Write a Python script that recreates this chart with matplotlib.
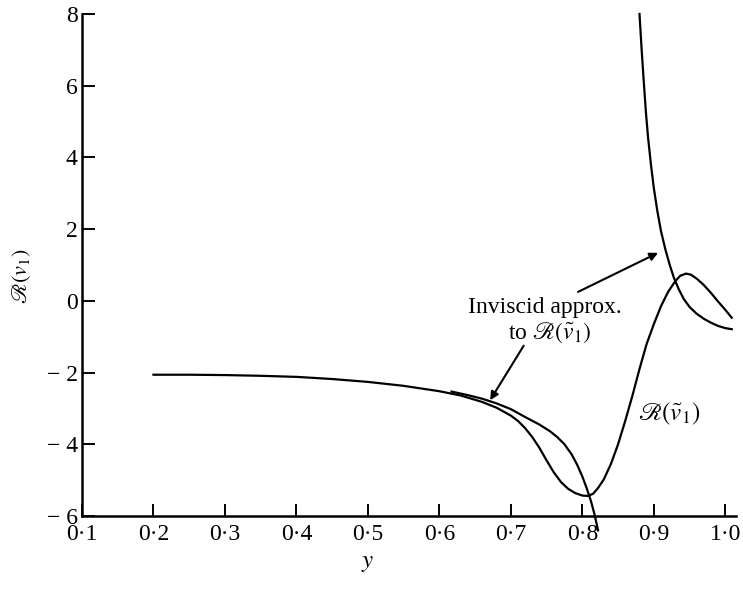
import matplotlib
matplotlib.use("Agg")
import matplotlib.pyplot as plt

plt.rcParams["font.family"] = ["Liberation Serif", "DejaVu Serif"]
plt.rcParams["mathtext.fontset"] = "stix"

# Real part of the full solution, R(v~1)
r_y = [0.20, 0.25, 0.30, 0.35, 0.40, 0.45, 0.50, 0.55, 0.60, 0.63, 0.66, 0.68,
       0.70, 0.71, 0.72, 0.73, 0.74, 0.75, 0.76, 0.77, 0.78, 0.79, 0.80, 0.808,
       0.815, 0.822, 0.83, 0.84, 0.85, 0.86, 0.87, 0.88, 0.89, 0.90, 0.91,
       0.92, 0.93, 0.937, 0.945, 0.952, 0.96, 0.97, 0.98, 0.99, 1.00, 1.009]
r_val = [-2.06, -2.06, -2.07, -2.09, -2.12, -2.18, -2.26, -2.37, -2.52, -2.64,
         -2.82, -2.98, -3.20, -3.35, -3.55, -3.80, -4.10, -4.45, -4.78, -5.05,
         -5.24, -5.36, -5.43, -5.44, -5.38, -5.22, -4.98, -4.55, -4.00, -3.35,
         -2.65, -1.90, -1.20, -0.65, -0.15, 0.25, 0.55, 0.70, 0.76, 0.73, 0.62,
         0.44, 0.22, -0.02, -0.25, -0.47]

# Inviscid approximation, branch below the critical point
inv_lo_y = [0.617, 0.64, 0.66, 0.68, 0.70, 0.72, 0.74, 0.755, 0.765, 0.775,
            0.785, 0.793, 0.80, 0.806, 0.812, 0.817, 0.822]
inv_lo_val = [-2.53, -2.63, -2.73, -2.86, -3.02, -3.24, -3.45, -3.64, -3.80,
              -4.00, -4.28, -4.58, -4.90, -5.22, -5.58, -5.95, -6.40]

# Inviscid approximation, branch above the critical point
inv_hi_y = [0.880, 0.883, 0.886, 0.889, 0.892, 0.896, 0.900, 0.905, 0.910,
            0.916, 0.922, 0.928, 0.935, 0.942, 0.950, 0.960, 0.970, 0.980,
            0.990, 1.000, 1.009]
inv_hi_val = [8.0, 7.0, 6.1, 5.25, 4.55, 3.80, 3.15, 2.50, 1.95, 1.45, 1.02,
              0.65, 0.32, 0.05, -0.17, -0.36, -0.50, -0.61, -0.70, -0.76, -0.79]

x_ticks = [0.1, 0.2, 0.3, 0.4, 0.5, 0.6, 0.7, 0.8, 0.9, 1.0]
x_tick_labels = ["0·1", "0·2", "0·3", "0·4", "0·5", "0·6", "0·7", "0·8", "0·9", "1·0"]
y_ticks = [-6, -4, -2, 0, 2, 4, 6, 8]
y_tick_labels = ["\u2212 6", "\u2212 4", "\u2212 2", "0", "2", "4", "6", "8"]

fig = plt.figure(figsize=(7.43, 5.89), dpi=100)
ax = fig.add_axes([82 / 743, 73 / 589, 654 / 743, 502 / 589])

lw = 1.6
ax.plot(r_y, r_val, color="black", lw=lw, clip_on=False)
ax.plot(inv_lo_y, inv_lo_val, color="black", lw=lw, clip_on=False)
ax.plot(inv_hi_y, inv_hi_val, color="black", lw=lw, clip_on=False)

ax.set_xlim(0.1, 1.015)
ax.set_ylim(-6, 8)

for side in ("top", "right"):
    ax.spines[side].set_visible(False)
for side in ("left", "bottom"):
    ax.spines[side].set_linewidth(1.8)

ax.set_xticks(x_ticks)
ax.set_xticklabels(x_tick_labels)
ax.set_yticks(y_ticks)
ax.set_yticklabels(y_tick_labels)
ax.tick_params(direction="in", length=9, width=1.4, labelsize=17)
ax.tick_params(axis="x", pad=6)
ax.tick_params(axis="y", pad=3)

ax.text(0.5, -7.3, "$y$", ha="center", va="center", fontsize=18)
ax.text(0.016, 0.67, r"$\mathscr{R}(v_1)$", rotation=90, ha="center",
        va="center", fontsize=16)

ax.text(0.748, -0.19, "Inviscid approx.", ha="center", va="center", fontsize=17)
ax.text(0.755, -0.89, r"to $\mathscr{R}(\tilde{v}_1)$", ha="center",
        va="center", fontsize=17)
ax.text(0.921, -3.15, r"$\mathscr{R}(\tilde{v}_1)$", ha="center", va="center",
        fontsize=18)

arrow = dict(arrowstyle="-|>", color="black", lw=1.5, mutation_scale=12,
             shrinkA=0, shrinkB=0)
ax.annotate("", xy=(0.906, 1.34), xytext=(0.794, 0.25), arrowprops=arrow)
ax.annotate("", xy=(0.671, -2.77), xytext=(0.718, -1.25), arrowprops=arrow)

fig.savefig("out.png", dpi=100)
